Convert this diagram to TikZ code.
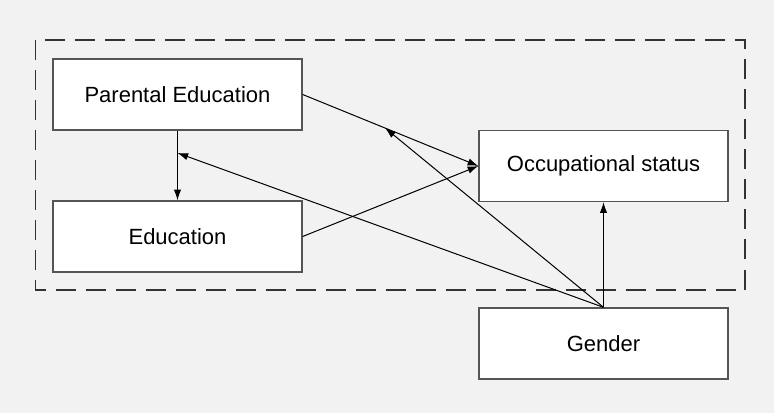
\documentclass[tikz,border=0pt]{standalone}
\usepackage{fontspec}
\setmainfont{Liberation Sans}
\usetikzlibrary{arrows.meta, positioning}
\definecolor{bg_gray}{HTML}{F2F2F2}
\definecolor{box_line}{HTML}{555555}
\tikzset{
    varbox/.style={rectangle, draw=box_line, line width=1pt, fill=white, align=center, minimum width=186.75pt, minimum height=53.25pt, font=\fontsize{16.5}{20}\selectfont},
    frame/.style={draw=black!80, line width=1.1pt, dash pattern=on 15pt off 7.5pt},
    arrow/.style={line width=0.75pt, -{Latex[length=8pt, width=5.5pt]}}
}
\begin{document}
\begin{tikzpicture}[x=0.75pt, y=-0.75pt]
        \fill[bg_gray] (0,0) rectangle (774,413);
        \useasboundingbox (0,0) rectangle (774,413);

        \draw[frame] (35.5,40) rectangle (745,290);

        \node (ParEdu) [varbox] at (177.5, 94.5) {Parental Education};
        \node (Edu) [varbox] at (177.5, 236.5) {Education};
        \node (Occ) [varbox] at (603.5, 166) {Occupational status};
        \node (Gender) [varbox] at (603.5, 343.5) {Gender};

        % Direct paths
        \draw[arrow] (ParEdu.south) -- coordinate[pos=0.32] (ParEdu_Edu) (Edu.north);
        \draw[arrow] (ParEdu.east) -- coordinate[pos=0.47] (ParEdu_Occ) (Occ.west);
        \draw[arrow] (Edu.east) -- (Occ.west);

        % Gender effects
        \draw[arrow] (Gender.north) -- (Occ.south);
        \draw[arrow] (Gender.north) -- (ParEdu_Occ);
        \draw[arrow] (Gender.north) -- (ParEdu_Edu);

    \end{tikzpicture}
\end{document}
